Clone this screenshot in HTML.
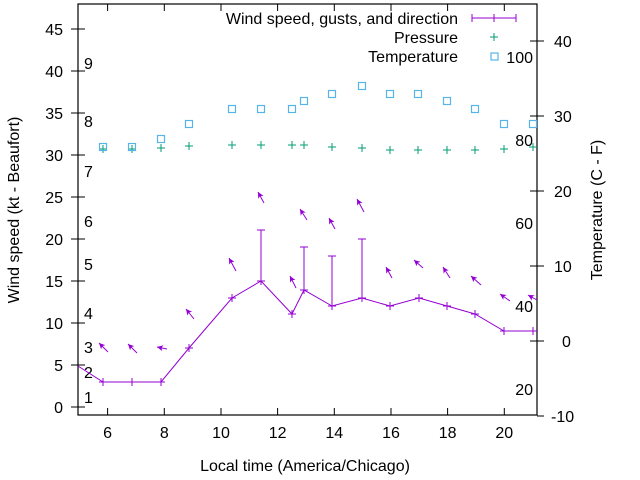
<!DOCTYPE html>
<html><head><meta charset="utf-8"><style>html,body{margin:0;padding:0;background:#fff}svg{display:block}text{font-family:"Liberation Sans",sans-serif;font-size:16px;fill:#000}</style></head><body>
<svg width="640" height="480" viewBox="0 0 640 480" xmlns="http://www.w3.org/2000/svg">
<defs><marker id="ah" markerWidth="7" markerHeight="7" refX="6" refY="3" orient="auto" markerUnits="userSpaceOnUse"><path d="M0,0 L6,3 L0,6 L1.5,3 Z" fill="#9400d3"/></marker></defs>
<rect x="78" y="4" width="459" height="411" fill="none" stroke="#000" stroke-width="1.2"/>
<g stroke="#000" stroke-width="1">
<path d="M78,407h-7M78,365h-7M78,323h-7M78,281h-7M78,239h-7M78,197h-7M78,155h-7M78,113h-7M78,71h-7M78,29h-7"/>
<path d="M78,407h7M78,365h7M78,323h7M78,281h7M78,239h7M78,197h7M78,155h7M78,113h7M78,71h7M78,29h7"/>
<path d="M107.6,415v-7M164.3,415v-7M221,415v-7M277.6,415v-7M334.3,415v-7M391,415v-7M447.6,415v-7M504.3,415v-7"/>
<path d="M107.6,4v7M164.3,4v7M221,4v7M277.6,4v7M334.3,4v7M391,4v7M447.6,4v7M504.3,4v7"/>
<path d="M537,41h7M537,116h7M537,191h7M537,266h7M537,341h7M537,416h7"/>
<path d="M537,41h-7M537,116h-7M537,191h-7M537,266h-7M537,341h-7"/>
</g>
<g text-anchor="end">
<text x="63" y="413">0</text><text x="63" y="371">5</text><text x="63" y="329">10</text><text x="63" y="287">15</text><text x="63" y="245">20</text><text x="63" y="203">25</text><text x="63" y="161">30</text><text x="63" y="119">35</text><text x="63" y="77">40</text><text x="63" y="35">45</text>
</g>
<g text-anchor="middle">
<text x="107.6" y="438">6</text><text x="164.3" y="438">8</text><text x="221" y="438">10</text><text x="277.6" y="438">12</text><text x="334.3" y="438">14</text><text x="391" y="438">16</text><text x="447.6" y="438">18</text><text x="504.3" y="438">20</text>
<text x="305" y="471">Local time (America/Chicago)</text>
<text transform="translate(19,210) rotate(-90)">Wind speed (kt - Beaufort)</text>
<text transform="translate(602,210) rotate(-90)">Temperature (C - F)</text>
</g>
<g>
<text x="554" y="47">40</text><text x="554" y="122">30</text><text x="554" y="197">20</text><text x="554" y="272">10</text><text x="562" y="347">0</text><text x="551" y="422">-10</text>
</g>
<g>
<text x="84" y="403">1</text><text x="84" y="378">2</text><text x="84" y="353">3</text><text x="84" y="319">4</text><text x="84" y="270">5</text><text x="84" y="227">6</text><text x="84" y="177">7</text><text x="84" y="127">8</text><text x="84" y="69">9</text>
</g>
<g text-anchor="end">
<text x="533" y="63">100</text><text x="533" y="146">80</text><text x="533" y="229">60</text><text x="533" y="312">40</text><text x="533" y="395">20</text>
<text x="458" y="24">Wind speed, gusts, and direction</text><text x="458" y="43">Pressure</text><text x="458" y="62">Temperature</text>
</g>
<g stroke="#9400d3" stroke-width="1" fill="none">
<path d="M472,18h44M472,14v8M494,14v8M516,14v8"/>
<polyline points="78,366 103,382 132,382 161,382 189,348 232,298 261,281 292,314 304,290 332,306 362,298 390,306 419,298 447,306 475,314 504,331 533,331 537,331"/>
<path d="M103,378v8M99,382h8M132,378v8M128,382h8M161,378v8M157,382h8M189,344v8M185,348h8M232,294v8M228,298h8M261,277v8M257,281h8M292,310v8M288,314h8M304,286v8M300,290h8M332,302v8M328,306h8M362,294v8M358,298h8M390,302v8M386,306h8M419,294v8M415,298h8M447,302v8M443,306h8M475,310v8M471,314h8M504,327v8M500,331h8M533,327v8M529,331h8"/>
<path d="M261,281V230M257,230h8M304,290V247M300,247h8M332,306V256M328,256h8M362,298V239M358,239h8"/>
</g>
<g stroke="#9400d3" stroke-width="1">
<line x1="108" y1="352" x2="99" y2="343" marker-end="url(#ah)"/>
<line x1="137" y1="353" x2="128" y2="344" marker-end="url(#ah)"/>
<line x1="167" y1="349" x2="157" y2="347" marker-end="url(#ah)"/>
<line x1="194" y1="319" x2="186" y2="309" marker-end="url(#ah)"/>
<line x1="236" y1="271" x2="229" y2="258" marker-end="url(#ah)"/>
<line x1="264" y1="203" x2="258" y2="192" marker-end="url(#ah)"/>
<line x1="296" y1="288" x2="290" y2="276" marker-end="url(#ah)"/>
<line x1="307" y1="220" x2="300" y2="209" marker-end="url(#ah)"/>
<line x1="335" y1="229" x2="329" y2="218" marker-end="url(#ah)"/>
<line x1="364" y1="212" x2="357" y2="199" marker-end="url(#ah)"/>
<line x1="392" y1="278" x2="386" y2="267" marker-end="url(#ah)"/>
<line x1="423" y1="268" x2="414" y2="260" marker-end="url(#ah)"/>
<line x1="450" y1="278" x2="443" y2="267" marker-end="url(#ah)"/>
<line x1="481" y1="285" x2="471" y2="276" marker-end="url(#ah)"/>
<line x1="510" y1="301" x2="500" y2="294" marker-end="url(#ah)"/>
<line x1="537" y1="300" x2="528" y2="295" marker-end="url(#ah)"/>
</g>
<g stroke="#009e73" stroke-width="1">
<path d="M494,33v8M490,37h8"/>
<path d="M103,145v8M99,149h8M132,145v8M128,149h8M161,144v8M157,148h8M189,142v8M185,146h8M232,141v8M228,145h8M261,141v8M257,145h8M292,141v8M288,145h8M304,141v8M300,145h8M332,143v8M328,147h8M362,144v8M358,148h8M390,146v8M386,150h8M418,146v8M414,150h8M447,146v8M443,150h8M475,146v8M471,150h8M504,145v8M500,149h8M533,143v8M529,147h8"/>
</g>
<g stroke="#56b4e9" stroke-width="1.2" fill="none">
<rect x="491" y="53" width="7" height="7"/>
<rect x="99.5" y="143.5" width="7" height="7"/><rect x="128.5" y="143.5" width="7" height="7"/><rect x="157.5" y="135.5" width="7" height="7"/><rect x="185.5" y="120.5" width="7" height="7"/><rect x="228.5" y="105.5" width="7" height="7"/><rect x="257.5" y="105.5" width="7" height="7"/><rect x="288.5" y="105.5" width="7" height="7"/><rect x="300.5" y="97.5" width="7" height="7"/><rect x="328.5" y="90.5" width="7" height="7"/><rect x="358.5" y="82.5" width="7" height="7"/><rect x="386.5" y="90.5" width="7" height="7"/><rect x="414.5" y="90.5" width="7" height="7"/><rect x="443.5" y="97.5" width="7" height="7"/><rect x="471.5" y="105.5" width="7" height="7"/><rect x="500.5" y="120.5" width="7" height="7"/><rect x="529.5" y="120.5" width="7" height="7"/>
</g>
</svg>
</body></html>
